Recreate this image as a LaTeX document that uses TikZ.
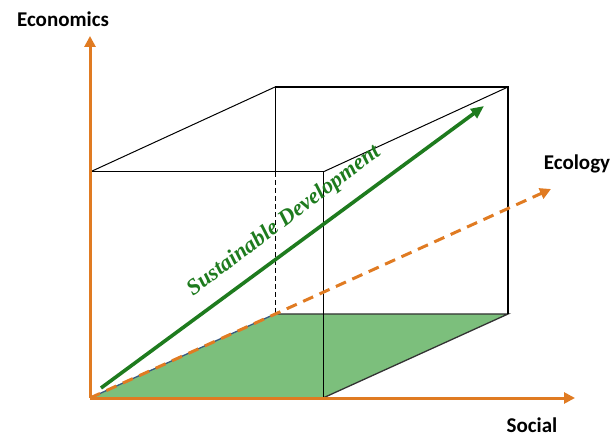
\documentclass[tikz,border=0pt]{standalone}
\usepackage{fontspec}
\setmainfont{Liberation Serif}
\newfontfamily\labfont{Carlito}
\usetikzlibrary{arrows.meta}
\definecolor{axorange}{HTML}{E07B22}
\definecolor{facegreen}{HTML}{7CBF7C}
\definecolor{sdgreen}{HTML}{1E7B1E}
\definecolor{edgeblue}{HTML}{3A5A80}
\tikzset{
  axis/.style={draw=axorange, line width=3pt, -{Triangle[length=11pt,width=11pt]}},
  ecoaxis/.style={axis, dash pattern=on 11pt off 7pt},
  edge/.style={draw=black, line width=1pt},
  backedge/.style={draw=black, line width=1.5pt},
  hidden/.style={draw=black, line width=1pt, dash pattern=on 5pt off 3pt},
  lab/.style={font=\labfont\bfseries\fontsize{21}{24}\selectfont, inner sep=0pt},
  sdarrow/.style={draw=sdgreen, line width=3.6pt, -{Triangle[length=13pt,width=11pt]}},
  sdtext/.style={font=\bfseries\itshape\fontsize{22.5}{26}\selectfont, text=sdgreen, inner sep=0pt}
}
\begin{document}
\begin{tikzpicture}[x=1pt,y=-1pt]
\useasboundingbox (0,0) rectangle (616,438);
% cube corners
\coordinate (A) at (90,398);
\coordinate (B) at (323,398);
\coordinate (C) at (323,172);
\coordinate (D) at (90,172);
\coordinate (E) at (275,314);
\coordinate (F) at (508,314);
\coordinate (G) at (508,87);
\coordinate (H) at (275,87);
\coordinate (J) at (275,172);
% axis tips
\coordinate (econtip) at (90,36);
\coordinate (soctip) at (575,398);
\coordinate (ecotip) at (551,189);
% green arrow ends
\coordinate (sds) at (101,388);
\coordinate (sde) at (484,106);
% bottom face
\fill[facegreen] (A) -- (E) -- (F) -- (B) -- cycle;
\draw[draw=edgeblue, line width=1.3pt] (A) -- (E);
\draw[draw=black!80, line width=1.3pt] (E) -- (F) -- (B);
% hidden edge
\draw[hidden] (J) -- (E);
% back face visible
\draw[edge] (J) -- (H);
\draw[backedge] (H) -- (G) -- (F);
% connecting edges
\draw[edge] (D) -- (H);
\draw[edge] (C) -- (G);
% front face
\draw[edge] (D) -- (C) -- (B);
% axes
\draw[ecoaxis] (A) -- (ecotip);
\draw[axis] (A) -- (econtip);
\draw[axis] (A) -- (soctip);
% sustainable development
\draw[sdarrow] (sds) -- (sde);
\node[sdtext, rotate=37] (sdlab) at (284,221) {Sustainable Development};
% labels
\node[lab] (econ) at (63,19) {Economics};
\node[lab] (eco) at (577,164) {Ecology};
\node[lab] (soc) at (532,425) {Social};
\end{tikzpicture}
\end{document}
